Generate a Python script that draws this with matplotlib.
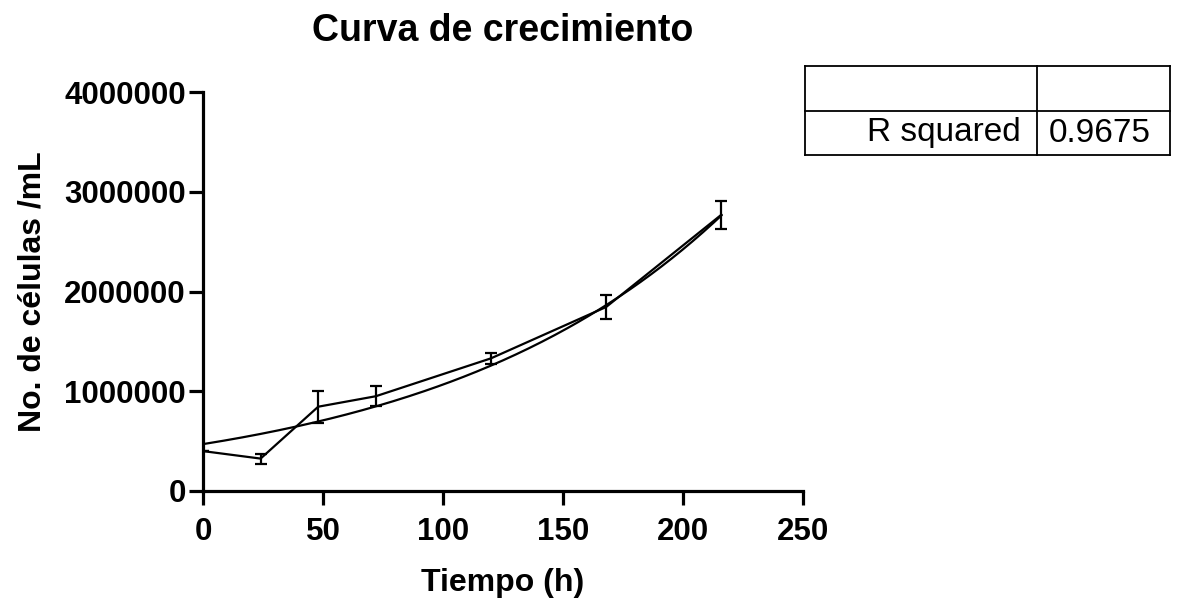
import numpy as np
import matplotlib
matplotlib.use("Agg")
import matplotlib.pyplot as plt
from matplotlib.lines import Line2D

plt.rcParams['font.family'] = ['Liberation Sans', 'DejaVu Sans']

# Data
tiempo = [0, 24, 48, 72, 120, 168, 216]
celulas = [400000, 325000, 845000, 950000, 1330000, 1845000, 2770000]
error = [0, 50000, 160000, 100000, 55000, 120000, 140000]

# Exponential fit parameters (Y = Y0 * exp(k * x))
fit_Y0 = 470000
fit_k = 0.00820
r_squared = "0.9675"

title = "Curva de crecimiento"
xlabel = "Tiempo (h)"
ylabel = "No. de células /mL"
xticks = [0, 50, 100, 150, 200, 250]
yticks = [0, 1000000, 2000000, 3000000, 4000000]

W, H = 1179, 601
fig = plt.figure(figsize=(W / 100, H / 100), dpi=100)
ax = fig.add_axes([203 / W, 1 - 491 / H, 600 / W, 399 / H])

ax.errorbar(tiempo, celulas, yerr=error, color='black', lw=1.6, capsize=4.5,
            capthick=1.6, elinewidth=1.6)
xf = np.linspace(tiempo[0], tiempo[-1], 200)
ax.plot(xf, fit_Y0 * np.exp(fit_k * xf), color='black', lw=1.6)

ax.set_xlim(0, 250)
ax.set_ylim(0, 4000000)
ax.set_xticks(xticks)
ax.set_yticks(yticks)
ax.set_xticklabels([str(t) for t in xticks], fontsize=22.5, fontweight='bold')
ax.set_yticklabels([str(t) for t in yticks], fontsize=22.5, fontweight='bold')
for s in ['top', 'right']:
    ax.spines[s].set_visible(False)
for s in ['left', 'bottom']:
    ax.spines[s].set_linewidth(2.3)
ax.tick_params(direction='out', length=10, width=2.3)
ax.tick_params(axis='x', pad=9)
ax.tick_params(axis='y', pad=2.5)
ax.set_xlabel(xlabel, fontsize=23, fontweight='bold', labelpad=15)
ax.set_ylabel(ylabel, fontsize=23, fontweight='bold', labelpad=12)
ax.set_title(title, fontsize=27, fontweight='bold', pad=37)

# Table
def fx(px):
    return px / W

def fy(py):
    return 1 - py / H

lw = 1.3
x0, x1, xm = 805, 1170, 1037
y0, y1, ym = 66, 155, 111
for (xa, ya, xb, yb) in [(x0, y0, x1, y0), (x0, y1, x1, y1), (x0, ym, x1, ym),
                         (x0, y0, x0, y1), (x1, y0, x1, y1), (xm, y0, xm, y1)]:
    fig.add_artist(Line2D([fx(xa), fx(xb)], [fy(ya), fy(yb)], color='black', lw=lw))
fig.text(fx(1021), fy(133), "R squared", fontsize=24, ha='right', va='center')
fig.text(fx(1100), fy(133), r_squared, fontsize=24, ha='center', va='center')

fig.savefig("out.png", dpi=100)
